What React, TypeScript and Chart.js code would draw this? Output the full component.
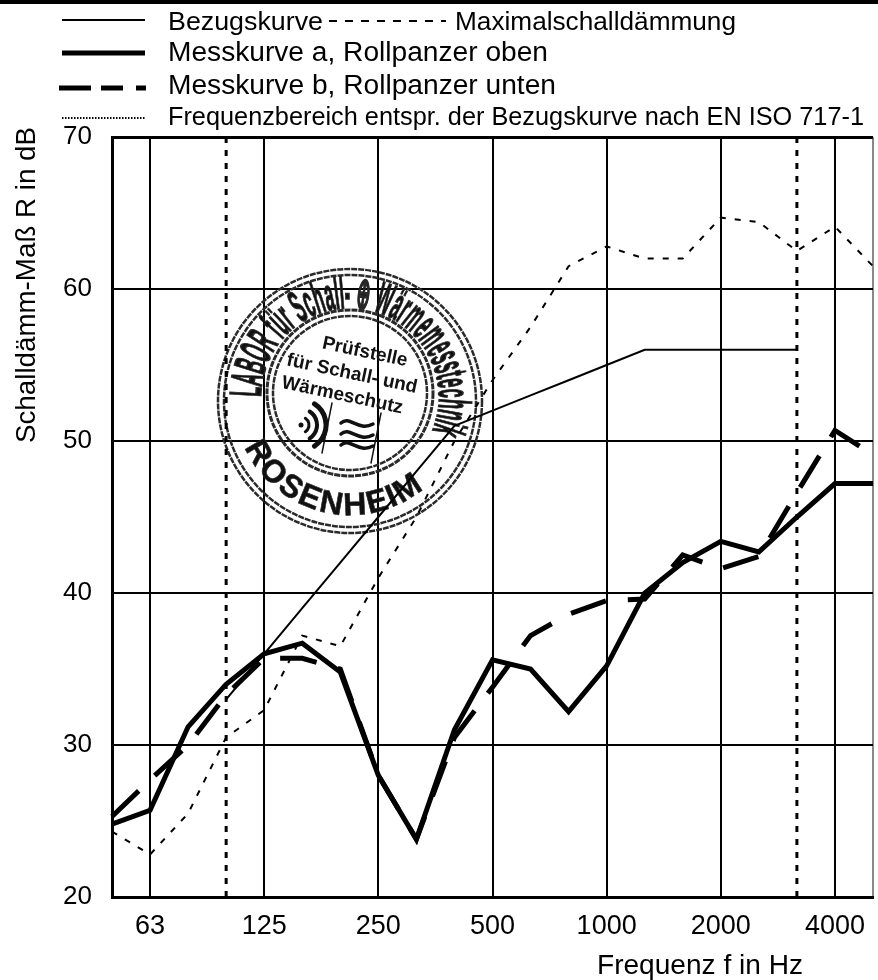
import React, { useEffect, useRef } from "react";
import { Chart, registerables } from "chart.js";

Chart.register(...registerables);

const frequencies = ["50","63","80","100","125","160","200","250","315","400","500","630","800","1000","1250","1600","2000","2500","3150","4000","5000"];
const labelledFrequencies = ["63","125","250","500","1000","2000","4000"];
const rangeLimits = ["100","3150"];
const bezugskurve = [null,null,null,33,36,39,42,45,48,51,52,53,54,55,56,56,56,56,56,null,null];
const maximalschalldaemmung = [24.3,22.8,25.5,30.5,32.3,37.2,36.5,41,45,50,54,57.5,61.5,62.8,62,62,64.7,64.4,62.5,64.1,61.5];
const messkurveA = [24.8,25.7,31.2,34,36,36.7,34.8,28,23.8,31,35.6,35,32.2,35.2,40,42,43.4,42.7,45,47.2,47.2];
const messkurveB = [25.3,27.7,30,33.3,35.7,35.7,35,28,23.8,30.5,33.8,37.2,38.6,39.5,39.6,42.5,41.6,42.4,46.6,50.7,49.1];
const yRange = [20, 70];

const FONT = '"Liberation Sans", Arial, sans-serif';

function fitText(ctx: any, text: string, x: number, y: number, width: number, size: number) {
  ctx.save();
  ctx.font = `${size}px ${FONT}`;
  const natural = ctx.measureText(text).width;
  ctx.translate(x, y);
  ctx.scale(width / natural, 1);
  ctx.fillText(text, 0, 0);
  ctx.restore();
}

function sampleLine(ctx: any, x0: number, x1: number, y: number, w: number, dash: number[]) {
  ctx.save();
  ctx.beginPath();
  ctx.setLineDash(dash);
  ctx.lineWidth = w;
  ctx.strokeStyle = "#000";
  ctx.moveTo(x0, y);
  ctx.lineTo(x1, y);
  ctx.stroke();
  ctx.restore();
}

function arcText(ctx: any, text: string, cx: number, cy: number, r: number, a0: number, a1: number, font: string, top: boolean, bold: number) {
  ctx.save();
  ctx.font = font;
  ctx.textAlign = "center";
  ctx.textBaseline = "alphabetic";
  const chars = Array.from(text);
  const widths = chars.map((c) => ctx.measureText(c).width);
  const total = widths.reduce((s, w) => s + w, 0);
  const span = a1 - a0;
  let used = 0;
  const sx = (Math.abs(span) * Math.PI / 180 * r) / total;
  chars.forEach((c, i) => {
    const phi = ((a0 + span * (used + widths[i] / 2) / total) * Math.PI) / 180;
    used += widths[i];
    ctx.save();
    if (top) {
      ctx.translate(cx + r * Math.sin(phi), cy - r * Math.cos(phi));
      ctx.rotate(phi);
    } else {
      ctx.translate(cx + r * Math.sin(phi), cy + r * Math.cos(phi));
      ctx.rotate(-phi);
    }
    ctx.scale(Math.min(sx, 1), 1);
    ctx.fillText(c, 0, 0);
    if (bold > 0) {
      ctx.lineWidth = bold;
      ctx.strokeText(c, 0, 0);
    }
    ctx.restore();
  });
  ctx.restore();
}

const stampPlugin = {
  id: "stamp",
  beforeDatasetsDraw(chart: any) {
    const ctx = chart.ctx;
    const cx = 350, cy = 401, icx = 350, icy = 393;
    ctx.save();
    ctx.strokeStyle = "#2a2a2a";
    ctx.fillStyle = "#111";
    ctx.setLineDash([6, 1]);
    for (const [x, y, r, w] of [[cx, cy, 132, 2.5], [cx, cy, 126, 2.5], [icx, icy, 83, 3], [icx, icy, 77, 2.5]]) {
      ctx.beginPath();
      ctx.lineWidth = w;
      ctx.arc(x, y, r, 0, Math.PI * 2);
      ctx.stroke();
    }
    ctx.setLineDash([]);
    arcText(ctx, "LABOR für Schall- ⊕ Wärmemesstechnik", icx, icy + 4, 89, -90, 112, `bold 45px ${FONT}`, true, 1.6);
    arcText(ctx, "ROSENHEIM", icx, icy + 6, 116, -66, 40, `bold 32px ${FONT}`, false, 0.6);

    ctx.save();
    ctx.translate(352, 374);
    ctx.rotate((12 * Math.PI) / 180);
    ctx.textAlign = "center";
    ctx.textBaseline = "middle";
    ctx.font = `bold 19px ${FONT}`;
    ctx.fillText("Prüfstelle", 8, -24, 90);
    ctx.fillText("für Schall- und", 0, 0, 138);
    ctx.fillText("Wärmeschutz", -5, 23, 130);
    ctx.restore();

    // sound waves and heat symbol of the seal
    ctx.strokeStyle = "#111";
    ctx.lineCap = "round";
    const wx = 301, wy = 425;
    for (const [r, w] of [[8, 3], [16, 4], [25, 5]]) {
      ctx.beginPath();
      ctx.lineWidth = w;
      ctx.arc(wx, wy, r, -1.0, 1.0);
      ctx.stroke();
    }
    ctx.beginPath();
    ctx.arc(wx, wy, 2.5, 0, Math.PI * 2);
    ctx.fill();
    ctx.lineWidth = 1.5;
    ctx.beginPath();
    ctx.moveTo(332, 403);
    ctx.lineTo(322, 453);
    ctx.moveTo(381, 413);
    ctx.lineTo(371, 463);
    ctx.stroke();
    ctx.lineWidth = 3.5;
    for (const dy of [0, 11, 22]) {
      ctx.beginPath();
      ctx.moveTo(341, 423 + dy);
      ctx.bezierCurveTo(350, 415 + dy, 358, 432 + dy, 373, 424 + dy);
      ctx.stroke();
    }
    ctx.restore();
  },
};

const textPlugin = {
  id: "sheetText",
  afterDraw(chart: any) {
    const ctx = chart.ctx;
    ctx.save();
    ctx.fillStyle = "#000";
    ctx.fillRect(0, 0, 878, 4);
    ctx.textAlign = "left";
    ctx.textBaseline = "alphabetic";
    fitText(ctx, "Bezugskurve", 168, 30, 155, 26);
    fitText(ctx, "Maximalschalldämmung", 455, 30, 281, 26);
    fitText(ctx, "Messkurve a, Rollpanzer oben", 168, 61, 380, 27);
    fitText(ctx, "Messkurve b, Rollpanzer unten", 168, 94, 388, 27);
    fitText(ctx, "Frequenzbereich entspr. der Bezugskurve nach EN ISO 717-1", 168, 125, 696, 25);
    sampleLine(ctx, 62, 145, 20, 2, []);
    sampleLine(ctx, 62, 145, 53, 5, []);
    sampleLine(ctx, 59, 146, 88, 5, [32, 10, 22, 13, 10]);
    sampleLine(ctx, 62, 145, 118, 2, [1.5, 1.5]);
    sampleLine(ctx, 329, 446, 21, 2, [8, 8]);
    fitText(ctx, "Frequenz f in Hz", 597, 974, 206, 27);
    ctx.save();
    ctx.translate(35, 443);
    ctx.rotate(-Math.PI / 2);
    fitText(ctx, "Schalldämm-Maß R in dB", 0, 0, 316, 27);
    ctx.restore();
    ctx.restore();
  },
};

const limitLine = (f: string) => ({
  label: `Grenze ${f}`,
  data: yRange.map((y) => ({ x: f, y })),
  borderColor: "#000",
  borderWidth: 3,
  borderDash: [6, 7],
  pointRadius: 0,
  order: 5,
});

export default function App() {
  const ref = useRef<HTMLCanvasElement | null>(null);
  useEffect(() => {
    document.body.style.margin = "0";
    const chart = new Chart(ref.current as HTMLCanvasElement, {
      type: "line",
      data: {
        labels: frequencies,
        datasets: [
          { label: "Messkurve a, Rollpanzer oben", data: messkurveA, borderColor: "#000", borderWidth: 5, pointRadius: 0, tension: 0, order: 1 },
          { label: "Messkurve b, Rollpanzer unten", data: messkurveB, borderColor: "#000", borderWidth: 5, borderDash: [37, 22], pointRadius: 0, tension: 0, order: 2 },
          { label: "Bezugskurve", data: bezugskurve, borderColor: "#000", borderWidth: 2, pointRadius: 0, tension: 0, order: 3 },
          { label: "Maximalschalldämmung", data: maximalschalldaemmung, borderColor: "#000", borderWidth: 2, borderDash: [6, 9], pointRadius: 0, tension: 0, order: 4 },
          limitLine(rangeLimits[0]),
          limitLine(rangeLimits[1]),
        ] as any,
      },
      options: {
        responsive: false,
        animation: false,
        layout: { padding: { top: 137, right: 5, left: 0, bottom: 0 } },
        plugins: { legend: { display: false }, tooltip: { enabled: false } },
        scales: {
          x: {
            type: "category",
            offset: false,
            afterFit(s: any) { s.height = 83; s.paddingLeft = 0; s.paddingRight = 0; },
            grid: {
              drawTicks: false,
              lineWidth: 2,
              color: (c: any) => {
                if (c.index === frequencies.length - 1) return "#888";
                return labelledFrequencies.includes(frequencies[c.index]) ? "#000" : "rgba(0,0,0,0)";
              },
            },
            border: { color: "#000", width: 3 },
            ticks: {
              autoSkip: false,
              maxRotation: 0,
              padding: 13,
              color: "#000",
              font: { family: FONT, size: 27 },
              callback: (_v: any, i: number) => (labelledFrequencies.includes(frequencies[i]) ? frequencies[i] : ""),
            },
          },
          y: {
            min: yRange[0],
            max: yRange[1],
            afterFit(s: any) { s.width = 112; },
            grid: {
              drawTicks: false,
              color: "#000",
              lineWidth: (c: any) => (c.tick && c.tick.value === yRange[1] ? 3 : 2),
            },
            border: { color: "#000", width: 3 },
            ticks: { stepSize: 10, padding: 20, color: "#000", font: { family: FONT, size: 26 } },
          },
        },
      } as any,
      plugins: [stampPlugin, textPlugin],
    });
    return () => chart.destroy();
  }, []);
  return <canvas ref={ref} width={878} height={980} style={{ display: "block" }} />;
}
